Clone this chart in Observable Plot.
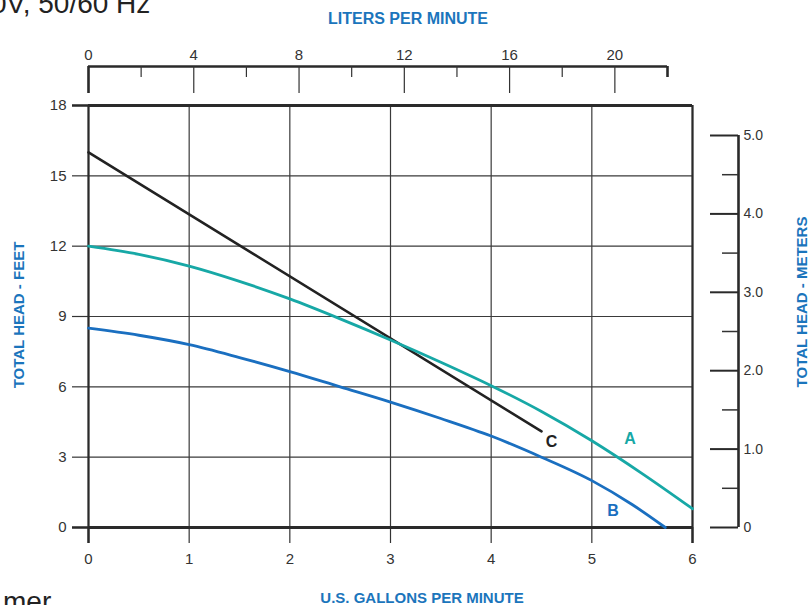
<!DOCTYPE html>
<html>
<head>
<meta charset="utf-8">
<script src="https://cdn.jsdelivr.net/npm/d3@7"></script>
<script src="https://cdn.jsdelivr.net/npm/@observablehq/plot@0.6"></script>
<style>
  html, body { margin: 0; padding: 0; background: #fff; }
  #wrap { position: relative; width: 810px; height: 605px; overflow: hidden; background: #fff; font-family: "Liberation Sans", Arial, sans-serif; }
  #wrap svg { position: absolute; left: 0; top: 0; }
  .lbl { position: absolute; white-space: nowrap; }
  .blue { color: #1b75bc; font-weight: bold; font-size: 15px; }
</style>
</head>
<body>
<div id="wrap">
  <div class="lbl" style="left:-9px; top:-10px; font-size:28px; line-height:28px; color:#222;">0V, 50/60 Hz</div>
  <div class="lbl" style="left:3px; top:588px; font-size:28px; line-height:28px; color:#222;">mer</div>
</div>
<script>
// ---- data ----
const gpmTicks = [0, 1, 2, 3, 4, 5, 6];
const feetTicks = [0, 3, 6, 9, 12, 15, 18];
const literMajor = [0, 4, 8, 12, 16, 20];
const literMinor = [2, 6, 10, 14, 18, 22];
const meterMajor = [0, 1, 2, 3, 4, 5];
const meterMinor = [0.5, 1.5, 2.5, 3.5, 4.5];

const curveA_gpm  = [0, 0.5, 1, 1.5, 2, 2.5, 3, 3.5, 4, 4.5, 5, 5.5, 6];
const curveA_feet = [12, 11.65, 11.15, 10.5, 9.75, 8.9, 8.0, 7.05, 6.05, 4.95, 3.7, 2.3, 0.8];
const curveB_gpm  = [0, 0.5, 1, 1.5, 2, 2.5, 3, 3.5, 4, 4.5, 5, 5.4, 5.73];
const curveB_feet = [8.5, 8.2, 7.8, 7.25, 6.65, 6.0, 5.35, 4.65, 3.9, 3.0, 2.0, 0.98, 0];
const curveC_gpm  = [0, 4.5];
const curveC_feet = [16, 4.1];

const labelNames = ["A", "B", "C"];
const labelGpm   = [5.38, 5.21, 4.6];
const labelFeet  = [3.8, 0.72, 3.67];

const TEAL = "#17a8a6", BLUE = "#1a6fc0", BLACK = "#222";
const labelColors = [TEAL, BLUE, BLACK];

const toPts = (xs, ys) => xs.map((x, i) => ({x, y: ys[i]}));
const ptsA = toPts(curveA_gpm, curveA_feet);
const ptsB = toPts(curveB_gpm, curveB_feet);
const ptsC = toPts(curveC_gpm, curveC_feet);
const labelRows = labelNames.map((t, i) => ({t, x: labelGpm[i], y: labelFeet[i], c: labelColors[i]}));

const narrow = "'Liberation Sans Narrow', 'Arial Narrow', 'Liberation Sans', Arial, sans-serif";
const regular = "'Liberation Sans', Arial, sans-serif";
const baseStyle = {background: "transparent", overflow: "visible", fontFamily: narrow, fontSize: "15px", color: "#333"};

// ---- main chart ----
const mainPlot = Plot.plot({
  width: 810, height: 605,
  marginLeft: 88, marginRight: 118, marginTop: 105, marginBottom: 78,
  style: baseStyle,
  x: {domain: [0, 6]},
  y: {domain: [0, 18]},
  marks: [
    Plot.gridX(gpmTicks, {stroke: "#3a3a3a", strokeOpacity: 1, strokeWidth: 1.2}),
    Plot.gridY(feetTicks, {stroke: "#3a3a3a", strokeOpacity: 1, strokeWidth: 1.2}),
    Plot.axisX(gpmTicks, {anchor: "bottom", tickSize: 16, tickPadding: 10, stroke: "#333", strokeWidth: 1.2, fontSize: 15, fontFamily: narrow, label: null}),
    Plot.axisX([0, 6], {anchor: "bottom", tickSize: 16, stroke: "#2a2a2a", strokeWidth: 2.5, tickFormat: () => "", label: null}),
    Plot.axisY(feetTicks, {anchor: "left", tickSize: 16, tickPadding: 6, stroke: "#333", strokeWidth: 1.2, fontSize: 15, fontFamily: narrow, label: null}),
    Plot.axisY([0, 18], {anchor: "left", tickSize: 16, stroke: "#2a2a2a", strokeWidth: 2.5, tickFormat: () => "", label: null}),
    Plot.ruleY([18], {stroke: "#2a2a2a", strokeWidth: 2.8}),
    Plot.ruleY([0], {stroke: "#2a2a2a", strokeWidth: 2.8}),
    Plot.ruleX([0], {stroke: "#2a2a2a", strokeWidth: 2.2}),
    Plot.ruleX([6], {stroke: "#2a2a2a", strokeWidth: 2.2}),
    Plot.line(ptsC, {x: "x", y: "y", stroke: BLACK, strokeWidth: 2.6}),
    Plot.line(ptsB, {x: "x", y: "y", stroke: BLUE, strokeWidth: 2.8, curve: "monotone-x"}),
    Plot.line(ptsA, {x: "x", y: "y", stroke: TEAL, strokeWidth: 2.8, curve: "monotone-x"}),
    Plot.text(labelRows, {x: "x", y: "y", text: "t", fill: "c", fontSize: 16, fontWeight: "bold", fontFamily: regular})
  ]
});

// ---- top liters axis ----
const topPlot = Plot.plot({
  width: 810, height: 93,
  marginLeft: 88, marginRight: 143, marginTop: 66, marginBottom: 0,
  style: baseStyle,
  x: {domain: [0, 22]},
  y: {domain: [0, 1], axis: null},
  marks: [
    Plot.ruleY([1], {x1: 0, x2: 22, stroke: "#2a2a2a", strokeWidth: 2.6}),
    Plot.tickX(literMajor.filter(d => d > 0), {x: d => d, stroke: "#333", strokeWidth: 1.2}),
    Plot.tickX([0], {x: d => d, stroke: "#2a2a2a", strokeWidth: 2.6}),
    Plot.tickX(literMinor.filter(d => d < 22), {x: d => d, stroke: "#333", strokeWidth: 1.2, insetBottom: 16}),
    Plot.tickX([22], {x: d => d, stroke: "#2a2a2a", strokeWidth: 2.6, insetBottom: 16}),
    Plot.axisX(literMajor, {anchor: "top", tickSize: 0, tickPadding: 7, fontSize: 15, fontFamily: narrow, label: null})
  ]
});

// ---- right meters axis ----
const rightPlot = Plot.plot({
  width: 810, height: 605,
  marginLeft: 710, marginRight: 72, marginTop: 135, marginBottom: 78,
  style: {...baseStyle, fontFamily: regular, fontSize: "14px"},
  x: {domain: [0, 1], axis: null},
  y: {domain: [0, 5]},
  marks: [
    Plot.ruleX([1], {y1: 0, y2: 5, stroke: "#2a2a2a", strokeWidth: 2.6}),
    Plot.tickY(meterMajor, {y: d => d, stroke: "#2a2a2a", strokeWidth: 2}),
    Plot.tickY(meterMinor, {y: d => d, stroke: "#333", strokeWidth: 1.5, insetLeft: 12}),
    Plot.axisY(meterMajor, {anchor: "right", tickSize: 0, tickPadding: 5, fontSize: 14, fontFamily: regular, label: null,
      tickFormat: d => d === 0 ? "0" : d.toFixed(1)})
  ]
});

const wrap = document.getElementById("wrap");
wrap.appendChild(mainPlot);
wrap.appendChild(topPlot);
wrap.appendChild(rightPlot);

// ---- axis titles ----
function addLabel(text, x, y, rotate, size) {
  const d = document.createElement("div");
  d.className = "lbl blue";
  d.textContent = text;
  d.style.left = x + "px";
  d.style.top = y + "px";
  if (size) d.style.fontSize = size + "px";
  d.style.transform = "translate(-50%, -50%)" + (rotate ? " rotate(-90deg)" : "");
  wrap.appendChild(d);
}
addLabel("LITERS PER MINUTE", 408, 19, false, 16);
addLabel("U.S. GALLONS PER MINUTE", 422, 597, false);
addLabel("TOTAL HEAD - FEET", 18, 315, true);
addLabel("TOTAL HEAD - METERS", 801, 302, true);
</script>
</body>
</html>
